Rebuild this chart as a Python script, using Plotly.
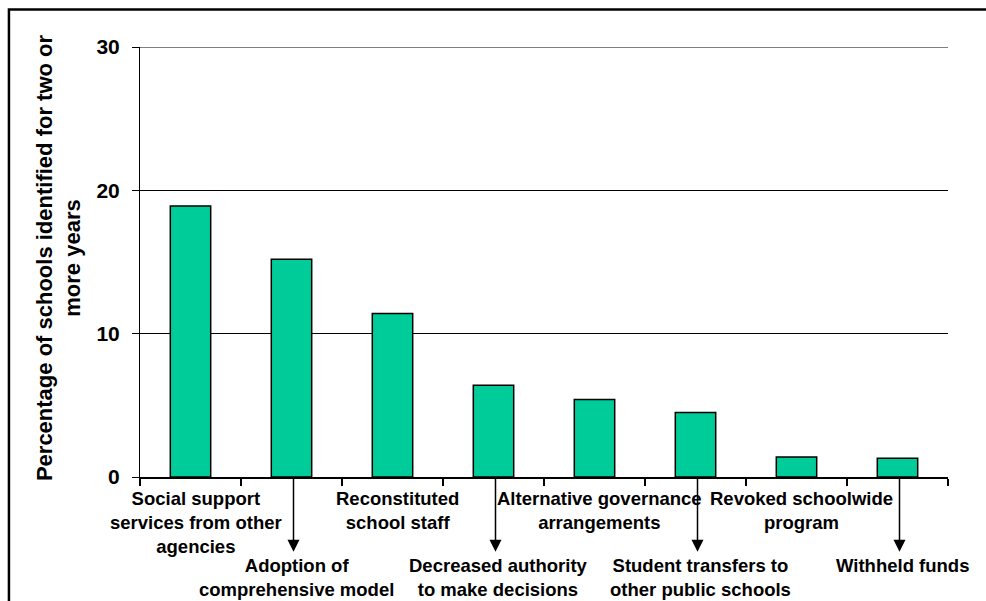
import plotly.graph_objects as go

# Sanctions applied to schools identified for improvement two or more years
categories = [
    "Social support services from other agencies",
    "Adoption of comprehensive model",
    "Reconstituted school staff",
    "Decreased authority to make decisions",
    "Alternative governance arrangements",
    "Student transfers to other public schools",
    "Revoked schoolwide program",
    "Withheld funds",
]
percentages = [18.9, 15.2, 11.4, 6.4, 5.4, 4.5, 1.4, 1.3]

# Multi-line axis labels; odd entries sit directly under the axis,
# even entries hang lower with a pointer arrow
axis_labels = [
    "Social support<br>services from other<br>agencies",
    "Adoption of<br>comprehensive model",
    "Reconstituted<br>school staff",
    "Decreased authority<br>to make decisions",
    "Alternative governance<br>arrangements",
    "Student transfers to<br>other public schools",
    "Revoked schoolwide<br>program",
    "Withheld funds",
]
y_ticks = [0, 10, 20, 30]
y_title = "Percentage of schools identified for two or<br>more years"

FONT = "Liberation Sans, Arial, sans-serif"
BAR_COLOR = "#00CC99"

fig = go.Figure(
    go.Bar(
        x=categories,
        y=percentages,
        marker=dict(color=BAR_COLOR, line=dict(color="black", width=1.5)),
        width=0.4,
    )
)

annotations = []
for i, (cat, lab) in enumerate(zip(categories, axis_labels)):
    lower = i % 2 == 1
    annotations.append(dict(
        x=cat, xref="x", y=-0.176 if lower else -0.022, yref="paper",
        text=lab, showarrow=False, xanchor="center", yanchor="top",
        xshift=5, align="center",
        font=dict(family=FONT, size=18.5, color="black", weight="bold"),
    ))
    if lower:
        annotations.append(dict(
            x=cat, xref="x", y=-0.174, yref="paper",
            ax=0, ay=-75, text="", showarrow=True, xshift=2,
            arrowhead=2, arrowsize=1.6, arrowwidth=1.5, arrowcolor="black",
            standoff=0, startstandoff=0,
        ))

annotations.append(dict(
    x=-0.101, xref="paper", y=0.51, yref="paper",
    text=y_title, showarrow=False, textangle=-90,
    xanchor="center", yanchor="middle", align="center",
    font=dict(family=FONT, size=22, color="black", weight="bold"),
))

shapes = [
    # outer frame around the whole graphic
    dict(
        type="rect", xref="paper", yref="paper",
        x0=-0.1622, x1=1.06, y0=-0.32, y1=1.087,
        line=dict(color="black", width=2.5), fillcolor="rgba(0,0,0,0)",
        layer="above",
    ),
    # gridline at the top of the value range
    dict(
        type="line", xref="paper", yref="y",
        x0=0, x1=1, y0=max(y_ticks), y1=max(y_ticks),
        line=dict(color="black", width=1), layer="below",
    ),
]

fig.update_layout(
    width=986, height=601,
    margin=dict(l=140, r=38, t=47, b=124),
    paper_bgcolor="white", plot_bgcolor="white",
    showlegend=False,
    annotations=annotations,
    shapes=shapes,
    font=dict(family=FONT, color="black"),
)

fig.update_xaxes(
    type="category",
    range=[-0.5, len(categories) - 0.5],
    showticklabels=False,
    showline=True, linecolor="black", linewidth=2,
    ticks="outside", tickson="boundaries", ticklen=7, tickcolor="black", tickwidth=1.5,
    showgrid=False,
)
fig.update_yaxes(
    range=[0, max(y_ticks)],
    tickvals=y_ticks,
    tickfont=dict(family=FONT, size=21, color="black", weight="bold"),
    showline=True, linecolor="black", linewidth=1,
    ticks="outside", ticklen=7, tickcolor="black", tickwidth=1,
    showgrid=True, gridcolor="black", gridwidth=1,
    zeroline=False,
    ticklabelstandoff=8,
)

fig.write_html("out.html")
